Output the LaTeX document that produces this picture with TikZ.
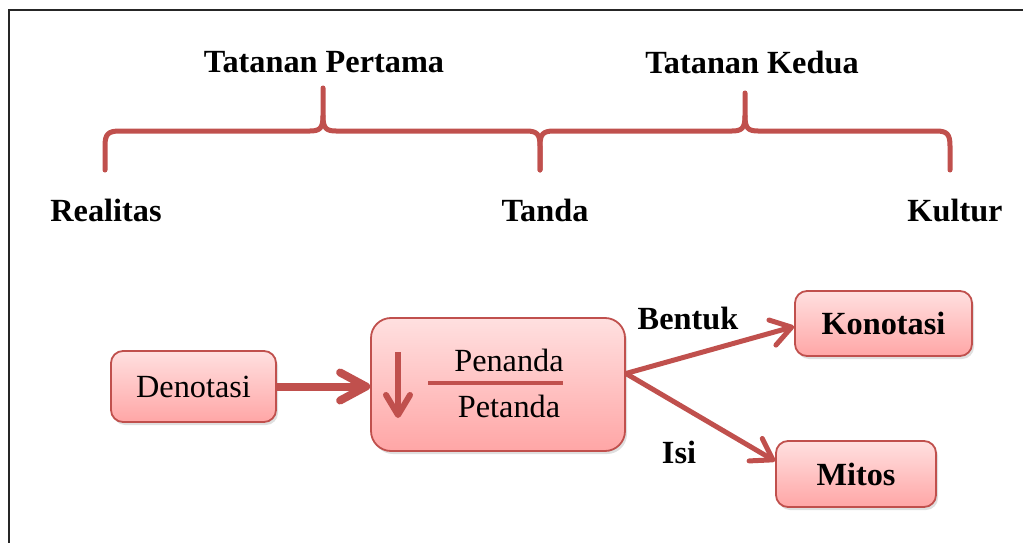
\documentclass[tikz,border=0pt]{standalone}
\usepackage{fontspec}
\setmainfont{Liberation Serif}
\usetikzlibrary{arrows.meta,shadows,calc}
\definecolor{accent}{HTML}{C0504D}
\definecolor{boxtop}{HTML}{FFE0E0}
\definecolor{boxbot}{HTML}{FFA6A6}
\tikzset{
  lbl/.style={font=\fontsize{32.3}{36}\selectfont\bfseries, inner sep=0pt},
  plain/.style={font=\fontsize{32.3}{36}\selectfont, inner sep=0pt},
  brace/.style={draw=accent, line width=5pt, line cap=round, line join=round},
  pinkbox/.style={draw=accent, line width=1.8pt, rounded corners=12pt,
    top color=boxtop, bottom color=boxbot, inner sep=0pt,
    drop shadow={opacity=0.25, shadow xshift=2pt, shadow yshift=-3pt}},
  conn/.style={draw=accent, line width=5pt,
    -{Straight Barb[length=20pt,width=26pt,round]}},
}
\begin{document}
\begin{tikzpicture}[x=1pt,y=-1pt]
\useasboundingbox (0,0) rectangle (1023,543);
% frame
\draw[line width=2pt, black!85] (9,543) -- (9,10) -- (1023,10);
% titles
\node[lbl] (t1) at (324,62) {Tatanan Pertama};
\node[lbl] (t2) at (752,62) {Tatanan Kedua};
% braces
\draw[brace] (105,170) -- (105,146) .. controls (105,134) and (108,131) .. (120,131)
  -- (310,131) .. controls (320,131) and (323,128) .. (323,116) -- (323,88);
\draw[brace] (323,116) .. controls (323,128) and (326,131) .. (336,131)
  -- (526,131) .. controls (537,131) and (540,134) .. (540,146) -- (540,170);
\draw[brace] (540,170) -- (540,146) .. controls (540,134) and (543,131) .. (554,131)
  -- (732,131) .. controls (742,131) and (745,128) .. (745,116) -- (745,93);
\draw[brace] (745,116) .. controls (745,128) and (748,131) .. (758,131)
  -- (936,131) .. controls (947,131) and (950,134) .. (950,146) -- (950,170);
% labels
\node[lbl] (real) at (106,210) {Realitas};
\node[lbl] (tanda) at (545,210) {Tanda};
\node[lbl] (kult) at (955,210) {Kultur};
% boxes
\node[pinkbox, minimum width=165pt, minimum height=71pt] (d) at (193.5,386.5) {};
\node[plain] (dt) at (d.center) {Denotasi};
\node[pinkbox, rounded corners=20pt, minimum width=254pt, minimum height=133pt] (c) at (498,384.5) {};
\node[pinkbox, minimum width=177pt, minimum height=65pt] (k) at (883.5,323.5) {};
\node[lbl] (kt) at (k.center) {Konotasi};
\node[pinkbox, minimum width=160pt, minimum height=66pt] (m) at (856,474) {};
\node[lbl] (mt) at (m.center) {Mitos};
% inside center box
\node[plain] (pen) at (509,360) {Penanda};
\node[plain] (pet) at (509,406) {Petanda};
\coordinate (fl) at (428,383);
\coordinate (fr) at (563,383);
\draw[accent, line width=4.5pt] (fl) -- (fr);
\coordinate (da) at (398,352);
\coordinate (db) at (398,418);
\draw[accent, line width=6pt, -{Straight Barb[length=20pt,width=24pt,round]}] (da) -- (db);
% arrows
\draw[accent, line width=8pt, -{Straight Barb[length=26pt,width=28pt,round]}] (d.east) -- (d.east -| c.west);
\coordinate (o) at ($(c.east)+(0,-11)$);
\draw[conn] (o) -- ($(k.west)+(0,3)$);
\draw[conn] (o) -- ($(m.north west)+(0,21)$);
\node[lbl] (bent) at (688,318) {Bentuk};
\node[lbl] (isi) at (679,452) {Isi};
\end{tikzpicture}
\end{document}
